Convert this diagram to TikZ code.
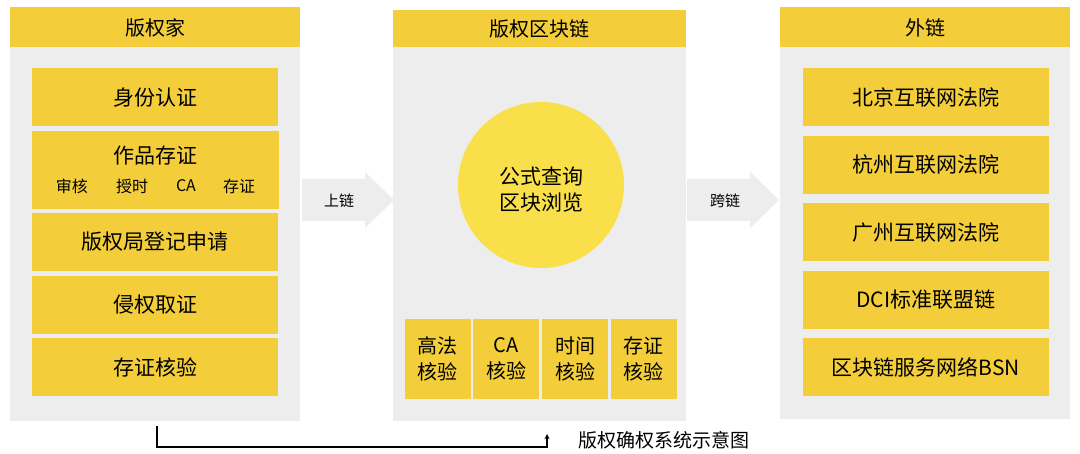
\documentclass[tikz,border=0pt]{standalone}
\usepackage{fontspec}
\setmainfont{Noto Sans CJK SC}
\usetikzlibrary{positioning}
\definecolor{boxyellow}{HTML}{F3CE3A}
\definecolor{panelgray}{HTML}{EDEDED}
\definecolor{discyellow}{HTML}{F9E04B}
\tikzset{
	panel/.style={fill=panelgray, inner sep=0pt, minimum width=290pt},
	header/.style={fill=boxyellow, inner sep=0pt, minimum width=290pt, minimum height=39pt, font=\fontsize{20}{24}\selectfont},
	item/.style={fill=boxyellow, inner sep=0pt, minimum width=246pt, minimum height=58pt, font=\fontsize{21}{25}\selectfont},
	check/.style={fill=boxyellow, inner sep=0pt, minimum width=66pt, minimum height=80pt, align=center, font=\fontsize{20}{26}\selectfont},
	sub/.style={inner sep=0pt, font=\fontsize{16}{18}\selectfont},
	hop/.style={fill=panelgray},
	hoplabel/.style={inner sep=0pt, font=\fontsize{15}{18}\selectfont}
}
\begin{document}
\begin{tikzpicture}[x=1pt, y=-1pt]
		\useasboundingbox[fill=white] (0,0) rectangle (1080,454);
		% panels
		\node[panel, minimum height=374pt] (P1) at (155,234) {};
		\node[panel, minimum height=374pt, minimum width=293pt] (P2) at (539.5,234) {};
		\node[panel, minimum height=372pt] (P3) at (925,233) {};
		\node[header, minimum height=40pt] (H1) at (155,27.5) {版权家};
		\node[header, minimum height=37pt, minimum width=293pt] (H2) at (539.5,28.5) {版权区块链};
		\node[header, minimum height=40pt] (H3) at (925,27.5) {外链};
		% left column
		\foreach \y/\nm/\txt in {
			97.5/L1/身份认证,
			242/L3/版权局登记申请,
			305/L4/侵权取证,
			367/L5/存证核验
		}{
			\node[item] (\nm) at (155,\y) {\txt};
		}
		\node[item, minimum height=78pt, minimum width=247pt] (L2) at (155.5,170) {};
		\node[inner sep=0pt, font=\fontsize{21}{25}\selectfont] (L2t) at (155,156) {作品存证};
		\foreach \x/\nm/\txt in {
			72/S1/审核,
			132/S2/授时,
			186/S3/CA,
			239/S4/存证
		}{
			\node[sub] (\nm) at (\x,186) {\txt};
		}
		% middle column
		\node[circle, fill=discyellow, inner sep=0pt, minimum size=166pt] (C) at (541,185) {};
		\node[align=center, inner sep=0pt, font=\fontsize{21}{26}\selectfont] (Ct) at (541,190) {公式查询\\区块浏览};
		\foreach \x/\nm/\ta/\tb in {
			437.5/V1/高法/核验,
			506/V2/CA/核验,
			575/V3/时间/核验,
			643.5/V4/存证/核验
		}{
			\node[check] (\nm) at (\x,359) {\ta\\\tb};
		}
		% right column
		\foreach \y/\nm/\txt in {
			97.5/R1/北京互联网法院,
			165/R2/杭州互联网法院,
			232.5/R3/广州互联网法院,
			300/R4/DCI标准联盟链,
			367.5/R5/区块链服务网络BSN
		}{
			\node[item] (\nm) at (926,\y) {\txt};
		}
		% hops between panels
		\fill[hop] (302,179) -- (365,179) -- (365,172) -- (394,200) -- (365,228) -- (365,221) -- (302,221) -- cycle;
		\node[hoplabel] (A1) at (339,201) {上链};
		\fill[hop] (687,179) -- (750,179) -- (750,172) -- (779,200) -- (750,228) -- (750,221) -- (687,221) -- cycle;
		\node[hoplabel] (A2) at (725,201) {跨链};
		% loop back
		\coordinate (B1) at (157,426);
		\coordinate (B2) at (547,434);
		\draw[line width=1.3pt, -stealth] (B1) -- ++(0,21) -| (B2);
		\node[inner sep=0pt, font=\fontsize{19}{22}\selectfont, anchor=west] (cap) at (578,440) {版权确权系统示意图};
	\end{tikzpicture}
\end{document}
